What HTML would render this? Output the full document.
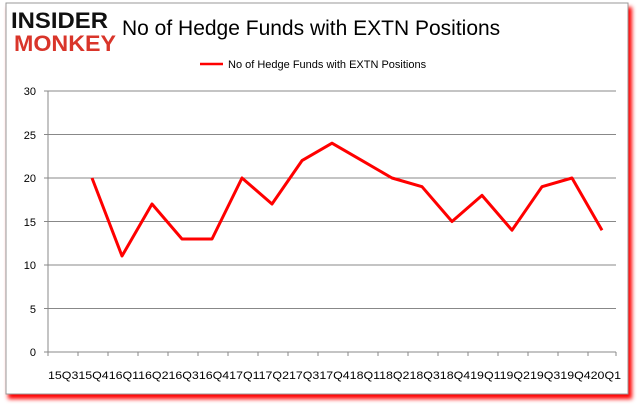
<!DOCTYPE html>
<html><head><style>
body{margin:0;background:#fff;width:637px;height:408px;overflow:hidden;font-family:"Liberation Sans",sans-serif}
</style></head><body>
<svg width="637" height="408" xmlns="http://www.w3.org/2000/svg">
<defs><filter id="s" x="-5%" y="-5%" width="110%" height="115%"><feGaussianBlur stdDeviation="2"/></filter></defs>
<rect x="8" y="7" width="624" height="392" fill="#f00" filter="url(#s)"/>
<rect x="6" y="3" width="622" height="391" fill="#fff" stroke="#999" stroke-width="1"/>
<text x="11" y="28" font-size="22" font-weight="bold" fill="#111" textLength="97" lengthAdjust="spacingAndGlyphs">INSIDER</text>
<text x="14" y="51" font-size="22" font-weight="bold" fill="#d9352a" textLength="102" lengthAdjust="spacingAndGlyphs">MONKEY</text>
<text x="122" y="35" font-size="21" fill="#000">No of Hedge Funds with EXTN Positions</text>
<line x1="200" y1="64" x2="223" y2="64" stroke="#f00" stroke-width="2.5"/>
<text x="228" y="68" font-size="11" fill="#000">No of Hedge Funds with EXTN  Positions</text>
<g stroke="#888" stroke-width="1">
<line x1="48" y1="91" x2="616" y2="91"/><line x1="48" y1="134.5" x2="616" y2="134.5"/><line x1="48" y1="178" x2="616" y2="178"/><line x1="48" y1="221.5" x2="616" y2="221.5"/><line x1="48" y1="265" x2="616" y2="265"/><line x1="48" y1="308.5" x2="616" y2="308.5"/><line x1="48" y1="352" x2="616" y2="352"/>
<line x1="48" y1="91" x2="48" y2="352"/>
</g>
<g font-size="11" fill="#000" text-anchor="end">
<text x="36" y="95">30</text><text x="36" y="139">25</text><text x="36" y="182">20</text>
<text x="36" y="226">15</text><text x="36" y="269">10</text><text x="36" y="313">5</text><text x="36" y="356">0</text>
</g>
<g stroke="#888"><line x1="44" y1="91" x2="48" y2="91"/><line x1="44" y1="134.5" x2="48" y2="134.5"/><line x1="44" y1="178" x2="48" y2="178"/><line x1="44" y1="221.5" x2="48" y2="221.5"/><line x1="44" y1="265" x2="48" y2="265"/><line x1="44" y1="308.5" x2="48" y2="308.5"/><line x1="44" y1="352" x2="48" y2="352"/>
<path d="M48 352v4M78 352v4M108 352v4M138 352v4M168 352v4M198 352v4M228 352v4M258 352v4M288 352v4M318 352v4M348 352v4M378 352v4M408 352v4M438 352v4M468 352v4M498 352v4M528 352v4M558 352v4M588 352v4M616 352v4"/></g>
<text x="48" y="379" font-size="11" fill="#000" textLength="573" lengthAdjust="spacingAndGlyphs">15Q315Q416Q116Q216Q316Q417Q117Q217Q317Q418Q118Q218Q318Q419Q119Q219Q319Q420Q1</text>
<polyline fill="none" stroke="#f00" stroke-width="3" stroke-linejoin="round" points="92,178 122,256 152,204 182,239 212,239 242,178 272,204 302,160.6 332,143.2 362,160.6 392,178 422,186.7 452,221.5 482,195.4 512,230.2 542,186.7 572,178 602,230.2"/>
</svg>
</body></html>
